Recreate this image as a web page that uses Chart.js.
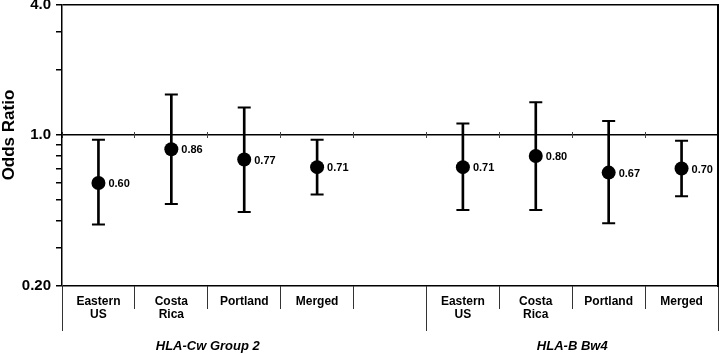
<!DOCTYPE html>
<html>
<head>
<meta charset="utf-8">
<script src="https://cdn.jsdelivr.net/npm/chart.js@4/dist/chart.umd.min.js"></script>
<style>
  html, body { margin: 0; padding: 0; background: #fff; }
  #wrap { width: 720px; height: 354px; position: relative; }
</style>
</head>
<body>
<div id="wrap"><canvas id="c" width="720" height="354"></canvas></div>
<script>
// ---- data ----
const categories = [['Eastern', 'US'], ['Costa', 'Rica'], 'Portland', 'Merged', '', ['Eastern', 'US'], ['Costa', 'Rica'], 'Portland', 'Merged'];
const oddsRatio = [0.60, 0.86, 0.77, 0.71, null, 0.71, 0.80, 0.67, 0.70];
const ciLow     = [0.385, 0.48, 0.44, 0.53, null, 0.45, 0.45, 0.39, 0.52];
const ciHigh    = [0.95, 1.54, 1.34, 0.95, null, 1.13, 1.42, 1.16, 0.94];
const groupNames = ['HLA-Cw Group 2', 'HLA-B Bw4'];
const groupMembers = [[0, 1, 2, 3, 4], [5, 6, 7, 8]];
const yTickValues = [0.2, 0.3, 0.4, 0.5, 0.6, 0.7, 0.8, 0.9, 1, 2, 3, 4];
const yTickLabels = { 0.2: '0.20', 1: '1.0', 4: '4.0' };
const yAxisTitle = 'Odds Ratio';

// ---- derived ----
const FONT = "'Liberation Sans', Arial, Helvetica, sans-serif";
const whiskers = ciLow.map((l, i) => (l == null ? null : [l, ciHigh[i]]));
const groupTicks = [];
const groupLabelAt = {};
groupMembers.forEach((m, gi) => {
  groupTicks.push(m[0] - 0.5);
  const named = m.filter(i => categories[i] !== '');
  const c = (named[0] + named[named.length - 1]) / 2;
  groupTicks.push(c);
  groupLabelAt[c] = groupNames[gi];
});
groupTicks.push(groupMembers[groupMembers.length - 1].slice(-1)[0] + 0.5);

const zeroPad = s => { s.paddingTop = 0; s.paddingBottom = 0; s.paddingLeft = 0; s.paddingRight = 0; };

const valueLabels = {
  id: 'valueLabels',
  afterDatasetsDraw(chart) {
    const meta = chart.getDatasetMeta(3);
    const ctx = chart.ctx;
    ctx.save();
    ctx.font = 'bold 11px ' + FONT;
    ctx.fillStyle = '#000';
    ctx.textAlign = 'left';
    ctx.textBaseline = 'middle';
    meta.data.forEach((el, i) => {
      if (oddsRatio[i] == null) return;
      ctx.fillText(oddsRatio[i].toFixed(2), el.x + 10, el.y + 1);
    });
    ctx.restore();
  }
};

const yTitle = {
  id: 'yTitle',
  afterDraw(chart) {
    const y = chart.scales.y.getPixelForValue(1);
    const ctx = chart.ctx;
    ctx.save();
    ctx.translate(14, y);
    ctx.rotate(-Math.PI / 2);
    ctx.font = 'bold 17px ' + FONT;
    ctx.fillStyle = '#000';
    ctx.textAlign = 'center';
    ctx.textBaseline = 'alphabetic';
    ctx.fillText(yAxisTitle, 0, 0);
    ctx.restore();
  }
};

new Chart(document.getElementById('c'), {
  type: 'bar',
  data: {
    labels: categories,
    datasets: [
      { type: 'bar', data: whiskers, backgroundColor: '#000', borderWidth: 0, barThickness: 2, order: 3 },
      { type: 'line', data: ciLow, showLine: false, pointStyle: 'line', pointRadius: 6.5, pointHoverRadius: 6.5,
        pointBorderWidth: 2, pointBorderColor: '#000', borderColor: '#000', order: 2 },
      { type: 'line', data: ciHigh, showLine: false, pointStyle: 'line', pointRadius: 6.5, pointHoverRadius: 6.5,
        pointBorderWidth: 2, pointBorderColor: '#000', borderColor: '#000', order: 2 },
      { type: 'line', data: oddsRatio, showLine: false, pointStyle: 'circle', pointRadius: 7, pointHoverRadius: 7,
        pointBackgroundColor: '#000', pointBorderWidth: 0, borderColor: '#000', order: 1 }
    ]
  },
  options: {
    responsive: false,
    animation: false,
    events: [],
    layout: { autoPadding: false, padding: { top: 5, right: 0, bottom: 0, left: 0 } },
    plugins: { legend: { display: false }, tooltip: { enabled: false } },
    scales: {
      y: {
        type: 'logarithmic',
        position: 'left',
        min: 0.2,
        max: 4,
        afterBuildTicks: s => { s.ticks = yTickValues.map(v => ({ value: v })); },
        afterFit: s => { s.width = 62; zeroPad(s); },
        ticks: {
          autoSkip: false,
          padding: 5,
          color: '#000',
          font: { family: FONT, size: 15, weight: 'bold' },
          callback: v => yTickLabels[v] || ''
        },
        grid: {
          color: ctx => (ctx.tick && yTickLabels[ctx.tick.value] ? '#000' : 'rgba(0,0,0,0)'),
          lineWidth: 1.5,
          tickColor: '#000',
          tickWidth: 1.5,
          tickLength: 6
        },
        border: { display: true, color: '#000', width: 1.5 }
      },
      y2: {
        type: 'linear',
        position: 'right',
        display: true,
        ticks: { display: false },
        grid: { display: false, drawOnChartArea: false, drawTicks: false },
        border: { display: true, color: '#000', width: 2 },
        afterFit: s => { s.width = 2; zeroPad(s); }
      },
      x: {
        type: 'category',
        position: 'bottom',
        offset: true,
        afterFit: s => { s.height = 68; zeroPad(s); },
        ticks: {
          autoSkip: false,
          maxRotation: 0,
          minRotation: 0,
          padding: -14,
          color: '#000',
          font: { family: FONT, size: 12, weight: 'bold', lineHeight: 1.1 }
        },
        grid: { offset: true, drawOnChartArea: false, tickLength: 23, tickColor: '#333', tickWidth: 1 },
        border: { display: false }
      },
      x2: {
        type: 'linear',
        position: { y: 0.2 },
        offset: false,
        min: -0.5,
        max: categories.length - 0.5,
        afterBuildTicks: s => { s.ticks = groupTicks.map(v => ({ value: v })); },
        afterFit: s => { zeroPad(s); },
        ticks: {
          autoSkip: false,
          maxRotation: 0,
          minRotation: 0,
          padding: 8,
          color: '#000',
          font: { family: FONT, size: 13, weight: 'bold', style: 'italic' },
          callback: v => groupLabelAt[v] || ''
        },
        grid: {
          offset: false,
          drawOnChartArea: false,
          tickLength: 45,
          tickWidth: 1,
          tickColor: ctx => (ctx.tick && groupLabelAt[ctx.tick.value] ? 'rgba(0,0,0,0)' : '#333')
        },
        border: { display: false }
      },
      x3: {
        type: 'category',
        position: { y: 1 },
        offset: true,
        afterFit: s => { zeroPad(s); },
        ticks: { display: false },
        grid: { offset: true, drawOnChartArea: false, tickLength: 3, tickColor: '#444', tickWidth: 1 },
        border: { display: false }
      },
      x4: {
        type: 'category',
        position: { y: 1 },
        offset: true,
        afterFit: s => { zeroPad(s); },
        ticks: { display: false },
        grid: { offset: true, drawOnChartArea: false, tickLength: -3, tickColor: '#444', tickWidth: 1 },
        border: { display: false }
      }
    }
  },
  plugins: [valueLabels, yTitle]
});
</script>
</body>
</html>
